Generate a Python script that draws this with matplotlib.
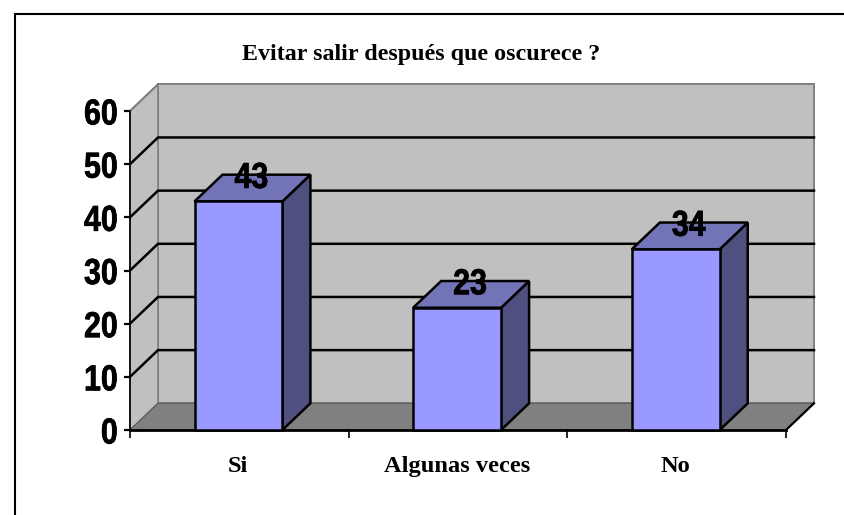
import matplotlib
matplotlib.use("Agg")
import matplotlib.pyplot as plt
import matplotlib.patheffects as pe
from matplotlib import font_manager as fm
from matplotlib.font_manager import FontProperties
from matplotlib.lines import Line2D
from matplotlib.patches import Polygon

categories = ["Si", "Algunas veces", "No"]
values = [43, 23, 34]
y_ticks = [0, 10, 20, 30, 40, 50, 60]
title = "Evitar salir después que oscurece ?"

W, H = 844, 515
SERIF = "Liberation Serif"


def narrow_bold(scale=0.84):
    """Arial-Narrow-like bold face: Liberation Sans Bold squeezed horizontally."""
    base = fm.findfont(FontProperties(family="Liberation Sans", weight="bold"))
    try:
        from fontTools.ttLib import TTFont
        font = TTFont(base)
        glyf, hmtx = font["glyf"], font["hmtx"]
        for name in font.getGlyphOrder():
            g = glyf[name]
            if g.isComposite():
                for c in g.components:
                    c.x = int(round(c.x * scale))
            elif g.numberOfContours > 0:
                g.coordinates.scale((scale, 1))
                g.coordinates.toInt()
            adv, lsb = hmtx[name]
            hmtx[name] = (int(round(adv * scale)), int(round(lsb * scale)))
        font.save("narrow_bold.ttf")
        return FontProperties(fname="narrow_bold.ttf")
    except Exception:
        return FontProperties(family="Liberation Sans", weight="bold")


NARROW = narrow_bold()
NARROW.set_size(26)
HEAVY = [pe.withStroke(linewidth=0.5, foreground="black")]

fig = plt.figure(figsize=(W / 100, H / 100), dpi=100, facecolor="white")
L, R, B, T = 130, 786, 430, 111
ax = fig.add_axes([L / W, 1 - B / H, (R - L) / W, (B - T) / H])
ax.set_xlim(-0.5, 2.5)
ax.set_ylim(0, 60)
ax.patch.set_visible(False)
for s in ax.spines.values():
    s.set_visible(False)

# depth offset of the 3D box, in data units
dx = 28.0 / ((R - L) / 3)
dy = 26.7 / ((B - T) / 60)
xl, xr = -0.5, 2.5
ytop = 60
EDGE = "#808080"

ax.add_patch(Polygon([(xl + dx, dy), (xr + dx, dy), (xr + dx, ytop + dy), (xl + dx, ytop + dy)],
                     fc="#C0C0C0", ec=EDGE, lw=1.4, clip_on=False, zorder=1))
ax.add_patch(Polygon([(xl, 0), (xl + dx, dy), (xl + dx, ytop + dy), (xl, ytop)],
                     fc="#C0C0C0", ec=EDGE, lw=1.2, clip_on=False, zorder=1))
ax.add_patch(Polygon([(xl, 0), (xr, 0), (xr + dx, dy), (xl + dx, dy)],
                     fc="#808080", ec="#5A5A5A", lw=0.8, clip_on=False, zorder=1.5))

for t in y_ticks[1:-1]:
    ax.plot([xl, xl + dx, xr + dx], [t, t + dy, t + dy], color="black", lw=1.8,
            clip_on=False, zorder=2, solid_joinstyle="miter")
ax.plot([xl, xl + dx], [60, 60 + dy], color=EDGE, lw=1.4, clip_on=False, zorder=2)
ax.plot([xr, xr + dx], [0, dy], color="black", lw=1.6, clip_on=False, zorder=2)
ax.plot([xl, xr], [0, 0], color="black", lw=2.0, clip_on=False, zorder=2.5)
ax.plot([xl, xl], [0, 60], color="black", lw=1.2, clip_on=False, zorder=2.5)

bw = 0.402
shift = -0.004
for i, v in enumerate(values):
    x0, x1 = i + shift - bw / 2, i + shift + bw / 2
    kw = dict(ec="black", lw=1.8, clip_on=False, zorder=3, joinstyle="miter")
    ax.add_patch(Polygon([(x1, 0), (x1 + dx, dy), (x1 + dx, v + dy), (x1, v)], fc="#4F4F80", **kw))
    ax.add_patch(Polygon([(x0, v), (x1, v), (x1 + dx, v + dy), (x0 + dx, v + dy)], fc="#7373B8", **kw))
    ax.add_patch(Polygon([(x0, 0), (x1, 0), (x1, v), (x0, v)], fc="#9999FF", **kw))
    ax.text(i + dx / 2 - 0.009, v + dy - 0.7, str(v), ha="center", va="center", fontproperties=NARROW,
            color="black", zorder=5, clip_on=False, path_effects=HEAVY)

ax.set_yticks(y_ticks)
ax.set_yticklabels([str(t) for t in y_ticks], fontproperties=NARROW, path_effects=HEAVY)
ax.tick_params(axis="y", length=4.3, width=1.6, pad=4.5)
ax.set_xticks([-0.5, 0.5, 1.5, 2.5])
ax.set_xticklabels([])
ax.set_xticks([i - 0.005 for i in range(len(categories))], minor=True)
ax.set_xticklabels(categories, minor=True, family=SERIF, weight="bold", fontsize=17.6)
ax.tick_params(axis="x", which="major", length=5.8, width=1.2)
ax.tick_params(axis="x", which="minor", length=0, pad=18.5)

fig.text(421 / W, 1 - 54.5 / H, title, family=SERIF, weight="bold", fontsize=17.3,
         ha="center", va="center")

fig.add_artist(Line2D([14.5 / W, 14.5 / W, 1], [0, 1 - 13.5 / H, 1 - 13.5 / H],
                      color="black", lw=1.5, solid_joinstyle="miter"))
fig.savefig("out.png", dpi=100)
